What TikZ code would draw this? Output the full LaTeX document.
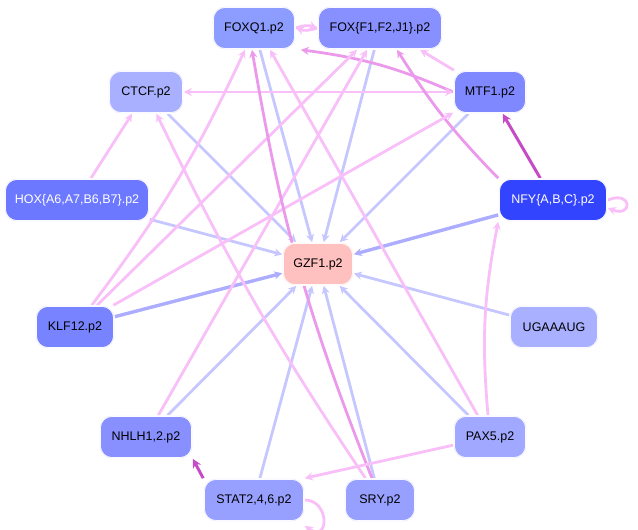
\documentclass[tikz,border=0pt]{standalone}
\usepackage{fontspec}
\setmainfont{Liberation Sans}
\usetikzlibrary{arrows.meta,backgrounds}
\begin{document}
\begin{tikzpicture}[x=1pt,y=-1pt,
 nd/.style={rounded corners=12pt,draw=white,line width=1.6pt,minimum height=42pt,inner sep=0pt,font=\fontsize{12.5pt}{14pt}\selectfont,
   postaction={draw=#1,line width=0.4pt,rounded corners=13pt}},
 nd/.default={blue!10},
 bl/.style={draw=blue!22,line width=2.8pt,-{Stealth[length=8pt,width=8pt]}},
 bl2/.style={draw=blue!32,line width=3.4pt,-{Stealth[length=8pt,width=8pt]}},
 pu/.style={draw=violet!22!magenta!25,line width=2.8pt,-{Stealth[length=8pt,width=8pt]}},
 pm/.style={draw=violet!40!magenta!40,line width=2.8pt,-{Stealth[length=8pt,width=8pt]}},
 ps/.style={draw=violet!65!magenta!70,line width=3pt,-{Stealth[length=9pt,width=9pt]}}]
\useasboundingbox (0,0) rectangle (638,530);
\definecolor{cA}{HTML}{8C9CFF}\definecolor{cB}{HTML}{8890FF}\definecolor{cC}{HTML}{A8B0FF}
\definecolor{cM}{HTML}{8088FF}\definecolor{cH}{HTML}{6C78FF}\definecolor{cN}{HTML}{3344FF}
\definecolor{cK}{HTML}{7884FF}\definecolor{cP}{HTML}{A0A8FF}\definecolor{cS}{HTML}{98A0FF}
\definecolor{cG}{HTML}{FFC0C0}
\node[nd,fill=cA,minimum width=82pt] (foxq) at (254,28) {FOXQ1.p2};
\node[nd,fill=cB,minimum width=124pt] (foxf) at (380,28) {FOX\{F1,F2,J1\}.p2};
\node[nd,fill=cC,minimum width=74pt] (ctcf) at (146,92) {CTCF.p2};
\node[nd,fill=cM,minimum width=72pt] (mtf) at (490,92) {MTF1.p2};
\node[nd,fill=cH,minimum width=144pt,text=white] (hox) at (77,200) {HOX\{A6,A7,B6,B7\}.p2};
\node[nd,fill=cN,minimum width=108pt,text=white] (nfy) at (553,200) {NFY\{A,B,C\}.p2};
\node[nd={red!10},fill=cG,minimum width=70pt] (gzf) at (318,264) {GZF1.p2};
\node[nd,fill=cK,minimum width=78pt] (klf) at (75,327) {KLF12.p2};
\node[nd,fill=cC,minimum width=88pt] (uga) at (554,327) {UGAAAUG};
\node[nd,fill=cB,minimum width=92pt] (nhl) at (146,437) {NHLH1,2.p2};
\node[nd,fill=cP,minimum width=72pt] (pax) at (490,437) {PAX5.p2};
\node[nd,fill=cS,minimum width=100pt] (sta) at (254,500) {STAT2,4,6.p2};
\node[nd,fill=cS,minimum width=70pt] (sry) at (380,500) {SRY.p2};
\begin{pgfonlayer}{background}
% to GZF1
\draw[bl] (foxq) -- (gzf);
\draw[bl] (foxf) -- (gzf);
\draw[bl] (ctcf) -- (gzf);
\draw[bl] (mtf) -- (gzf);
\draw[bl] (hox) -- (gzf);
\draw[bl2] (nfy) -- (gzf);
\draw[bl2] (klf) -- (gzf);
\draw[bl] (uga) -- (gzf);
\draw[bl] (pax) -- (gzf);
\draw[bl] (sry) -- (gzf);
\draw[bl] (sta) -- (gzf);
\draw[bl] (nhl) -- (gzf);
% regulatory
\draw[pu] (foxf.west) to[out=200,in=-20] (foxq.east);
\draw[pu] (foxq.east) to[out=20,in=160] (foxf.west);
\draw[pm] (mtf.west) to[bend right=8] ([xshift=5pt]foxq.south east);
\draw[pu] (mtf) -- ([xshift=40pt]foxf.south);
\draw[pu,<->,{Stealth[length=8pt,width=8pt]}-{Stealth[length=8pt,width=8pt]}] (mtf.west) -- (ctcf.east);
\draw[ps] (nfy) -- (mtf);
\draw[pm] (nfy.north west) to[bend left=6] ([xshift=17pt]foxf.south);
\draw[pu] (nfy.east) .. controls +(25,-10) and +(25,10) .. ([yshift=-8pt]nfy.east);
\draw[pu] (hox) -- (ctcf);
\draw[pu] (klf) to[bend right=6] ([xshift=-9pt]foxq.south);
\draw[pu] (klf) -- ([xshift=-23pt]foxf.south);
\draw[pu] (klf) -- (mtf);
\draw[pu] (nhl) -- ([xshift=-13pt]foxf.south);
\draw[pu] (sry) to[bend left=4] (ctcf);
\draw[pm] ([xshift=-8pt]sry.north) to[bend left=6] ([xshift=-2pt]foxq.south);
\draw[pu] (pax) -- ([xshift=16pt]foxq.south);
\draw[pu] ([xshift=-2pt]pax.north) to[bend left=8] (nfy.south west);
\draw[pu] (pax) -- (sta.north east);
\draw[ps] (sta.north west) -- (nhl.south east);
\draw[pu] (sta.east) .. controls +(25,0) and +(25,18) .. ([yshift=-4pt]sta.south east);
\end{pgfonlayer}
\end{tikzpicture}
\end{document}
